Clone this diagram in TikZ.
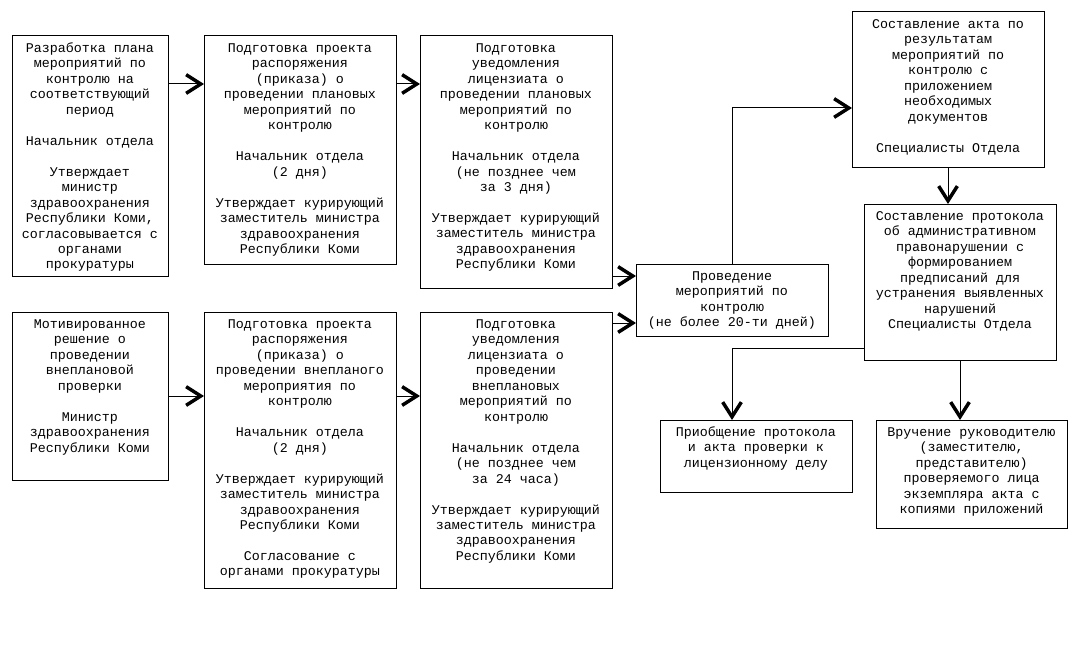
\documentclass[tikz,border=0pt]{standalone}
\usepackage{fontspec}
\setmainfont{Liberation Mono}
\usetikzlibrary{arrows.meta,calc}
\newcommand{\boxtext}[3]{\parbox[c][#2][t]{#1}{\centering\fontsize{10}{11.6}\selectfont\rule{0pt}{12.3pt}#3\par}}
\tikzset{
  blk/.style={draw=black, line width=0.75pt, inner sep=0pt, outer sep=0pt, anchor=north west, fill=white},
  arr/.style={line width=0.75pt, -{Straight Barb[length=11pt,width=14pt,line width=2.6pt]}}
}
\begin{document}
\begin{tikzpicture}[x=0.75pt,y=-0.75pt]
\fill[white] (0,0) rectangle (1081,649);
\useasboundingbox (0,0) rectangle (1081,649);

\node[blk] (B1) at (12,36) {\boxtext{117pt}{180pt}{Разработка плана\\мероприятий по\\контролю на\\соответствующий\\период\\~\\Начальник отдела\\~\\Утверждает\\министр\\здравоохранения\\Республики Коми,\\согласовывается с\\органами\\прокуратуры}};

\node[blk] (B2) at (204,36) {\boxtext{144pt}{171pt}{Подготовка проекта\\распоряжения\\(приказа) о\\проведении плановых\\мероприятий по\\контролю\\~\\Начальник отдела\\(2 дня)\\~\\Утверждает курирующий\\заместитель министра\\здравоохранения\\Республики Коми}};

\node[blk] (B3) at (420,36) {\boxtext{144pt}{189pt}{Подготовка\\уведомления\\лицензиата о\\проведении плановых\\мероприятий по\\контролю\\~\\Начальник отдела\\(не позднее чем\\за 3 дня)\\~\\Утверждает курирующий\\заместитель министра\\здравоохранения\\Республики Коми}};

\node[blk] (P) at (636,264) {\boxtext{144pt}{54pt}{Проведение\\мероприятий по\\контролю\\(не более 20-ти дней)}};

\node[blk] (A) at (852,12) {\boxtext{144pt}{117pt}{Составление акта по\\результатам\\мероприятий по\\контролю с\\приложением\\необходимых\\документов\\~\\Специалисты Отдела}};

\node[blk] (Prot) at (864,204) {\boxtext{144pt}{117pt}{Составление протокола\\об административном\\правонарушении с\\формированием\\предписаний для\\устранения выявленных\\нарушений\\Специалисты Отдела}};

\node[blk] (B4) at (12,312) {\boxtext{117pt}{126pt}{Мотивированное\\решение о\\проведении\\внеплановой\\проверки\\~\\Министр\\здравоохранения\\Республики Коми}};

\node[blk] (B5) at (204,312) {\boxtext{144pt}{207pt}{Подготовка проекта\\распоряжения\\(приказа) о\\проведении внепланого\\мероприятия по\\контролю\\~\\Начальник отдела\\(2 дня)\\~\\Утверждает курирующий\\заместитель министра\\здравоохранения\\Республики Коми\\~\\Согласование с\\органами прокуратуры}};

\node[blk] (B6) at (420,312) {\boxtext{144pt}{207pt}{Подготовка\\уведомления\\лицензиата о\\проведении\\внеплановых\\мероприятий по\\контролю\\~\\Начальник отдела\\(не позднее чем\\за 24 часа)\\~\\Утверждает курирующий\\заместитель министра\\здравоохранения\\Республики Коми}};

\node[blk] (Prib) at (660,420) {\boxtext{144pt}{54pt}{Приобщение протокола\\и акта проверки к\\лицензионному делу}};

\node[blk] (Vr) at (876,420) {\boxtext{143.25pt}{81pt}{Вручение руководителю\\(заместителю,\\представителю)\\проверяемого лица\\экземпляра акта с\\копиями приложений}};

% connectors
\draw[arr] ($(B1.north east)+(0,48)$) -- ($(B2.north west)+(0,48)$);
\draw[arr] ($(B2.north east)+(0,48)$) -- ($(B3.north west)+(0,48)$);
\draw[arr] ($(B3.north east)+(0,240)$) -- ($(P.north west)+(0,12)$);
\draw[arr] ($(B6.north east)+(0,11)$) -- ($(P.north west)+(0,59)$);
\draw[arr] ($(B4.north east)+(0,84)$) -- ($(B5.north west)+(0,84)$);
\draw[arr] ($(B5.north east)+(0,84)$) -- ($(B6.north west)+(0,84)$);
\draw[arr] (P.north) |- ($(A.north west)+(0,96)$);
\draw[arr] (A.south) -- (A.south |- Prot.north);
\draw[arr] ($(Prot.north west)+(0,144)$) -| ($(Prib.north west)+(72,0)$);
\draw[arr] (Prot.south) -- (Prot.south |- Vr.north);
\end{tikzpicture}
\end{document}
